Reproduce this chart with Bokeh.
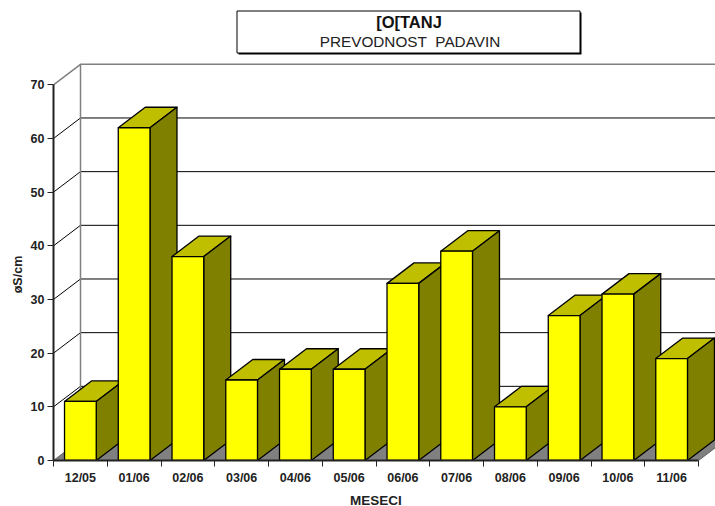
import math
from bokeh.plotting import figure
from bokeh.models import FixedTicker, ColumnDataSource, LinearAxis
from bokeh.core.properties import value
from bokeh.embed import file_html
from bokeh.resources import INLINE

months = ["12/05", "01/06", "02/06", "03/06", "04/06", "05/06",
          "06/06", "07/06", "08/06", "09/06", "10/06", "11/06"]
conductivity = [11, 62, 38, 15, 17, 17, 33, 39, 10, 27, 31, 19]
y_ticks = [0, 10, 20, 30, 40, 50, 60, 70]
title_main = "[O[TANJ"
title_sub = "PREVODNOST\u00a0\u00a0PADAVIN"
y_label = "øS/cm"
x_label = "MESECI"

# layout (pixels on the page)
W, H = 715, 506
X0, Y0 = 53.0, 460.0          # plot origin
CAT_PX, VAL_PX = 53.75, 5.367  # px per category / per unit
DX, DY = 27 / CAT_PX, 20.5 / VAL_PX  # 3-D depth in data units
BAR_W = 0.59
n = len(months)
xmax = (W - X0) / CAT_PX
ymax = Y0 / VAL_PX
FONT = "Liberation Sans"

def px(x): return (x - X0) / CAT_PX
def py(y): return (Y0 - y) / VAL_PX

p = figure(width=W, height=H, x_range=(0, xmax), y_range=(0, ymax),
           output_backend="svg", toolbar_location=None,
           min_border_left=int(X0), min_border_right=0, min_border_top=0,
           min_border_bottom=int(H - Y0), outline_line_color=None,
           background_fill_color="white")
p.frame_width = int(W - X0)
p.frame_height = int(Y0)
p.grid.visible = False

# floor
p.patch([0, DX, n + DX, n], [0, DY, DY, 0], fill_color="#808080",
        line_color="#606060", line_width=1)
# walls: back grid lines and side grid lines
vals = y_ticks[1:-1]
p.segment(x0=[DX] * len(vals), y0=[v + DY for v in vals], x1=[xmax] * len(vals),
          y1=[v + DY for v in vals], line_color="black", line_width=1)
p.segment(x0=[0] * len(vals), y0=vals, x1=[DX] * len(vals),
          y1=[v + DY for v in vals], line_color="black", line_width=1)
top = y_ticks[-1]
p.line([0, DX, xmax], [top, top + DY, top + DY], line_color="#808080", line_width=1.5)
p.line([DX, DX], [DY, top + DY], line_color="#808080", line_width=1.5)
# thin grey edge at the right of the last bar
p.line([px(714.5), px(714.5)], [DY, conductivity[-1] + DY], line_color="#a0a0a0", line_width=1)

# bars
xs, ys, cols = [], [], []
for i, v in enumerate(conductivity):
    l, r = i + 0.5 - BAR_W / 2, i + 0.5 + BAR_W / 2
    xs += [[l, r, r + DX, l + DX], [r, r + DX, r + DX, r], [l, r, r, l]]
    ys += [[v, v, v + DY, v + DY], [0, DY, v + DY, v], [0, 0, v, v]]
    cols += ["#BFBF00", "#808000", "#FFFF00"]
p.patches("xs", "ys", source=ColumnDataSource(dict(xs=xs, ys=ys, c=cols)),
          fill_color="c", line_color="black", line_width=1.3, line_join="round")

# axes
xa = p.xaxis[0]
xa.ticker = FixedTicker(ticks=[i + 0.5 for i in range(n)],
                        minor_ticks=list(range(n + 1)))
xa.major_label_overrides = {i + 0.5: m for i, m in enumerate(months)}
xa.bounds = (0, n)
xa.major_tick_in = xa.major_tick_out = 0
xa.minor_tick_in = 0
xa.minor_tick_out = 6
xa.minor_tick_line_color = "#222222"
ya = p.yaxis[0]
ya.ticker = FixedTicker(ticks=y_ticks)
ya.bounds = (0, top)
ya.major_tick_in = 0
ya.major_tick_out = 6
ya.minor_tick_line_color = None
for a in (xa, ya):
    a.axis_line_color = "#222222"
    a.axis_line_width = 2
    a.major_tick_line_color = "#222222"
    a.major_label_text_font = FONT
    a.major_label_text_font_style = "bold"
    a.major_label_text_font_size = "12.5px"
    a.major_label_text_color = "#222222"
xa.major_label_standoff = 4
ya.major_label_standoff = 3

# axis titles as one-tick axes, so they sit where the reference has them
xc, yc = px(375.5), py(274)
xt = LinearAxis(ticker=FixedTicker(ticks=[xc]), major_label_overrides={xc: x_label})
yt = LinearAxis(ticker=FixedTicker(ticks=[yc]), major_label_overrides={yc: y_label},
                major_label_orientation="vertical")
for a, stand in ((xt, 5), (yt, 3)):
    a.axis_line_color = None
    a.major_tick_line_color = None
    a.minor_tick_line_color = None
    a.major_tick_in = a.major_tick_out = 0
    a.major_label_standoff = stand
    a.major_label_text_font = FONT
    a.major_label_text_font_style = "bold"
    a.major_label_text_font_size = "12.5px"
    a.major_label_text_color = "#222222"
xt.major_label_text_font_size = "13.5px"
p.add_layout(xt, "below")
p.add_layout(yt, "left")

# title box with shadow
p.quad(left=px(238), right=px(581), top=py(12), bottom=py(54), fill_color="black", line_color=None)
p.quad(left=px(236.5), right=px(579.5), top=py(10.5), bottom=py(52.5), fill_color="white",
       line_color="black", line_width=1)
p.text(x=[px(408.5)], y=[py(21.5)], text=[title_main], text_font=value(FONT), text_font_style="bold",
       text_font_size="16.5px", text_align="center", text_baseline="middle", text_color="#111111")
p.text(x=[px(409.5)], y=[py(40.5)], text=[title_sub], text_font=value(FONT),
       text_font_size="15.3px", text_align="center", text_baseline="middle", text_color="#222222")

open("out.html", "w").write(file_html(p, INLINE))
